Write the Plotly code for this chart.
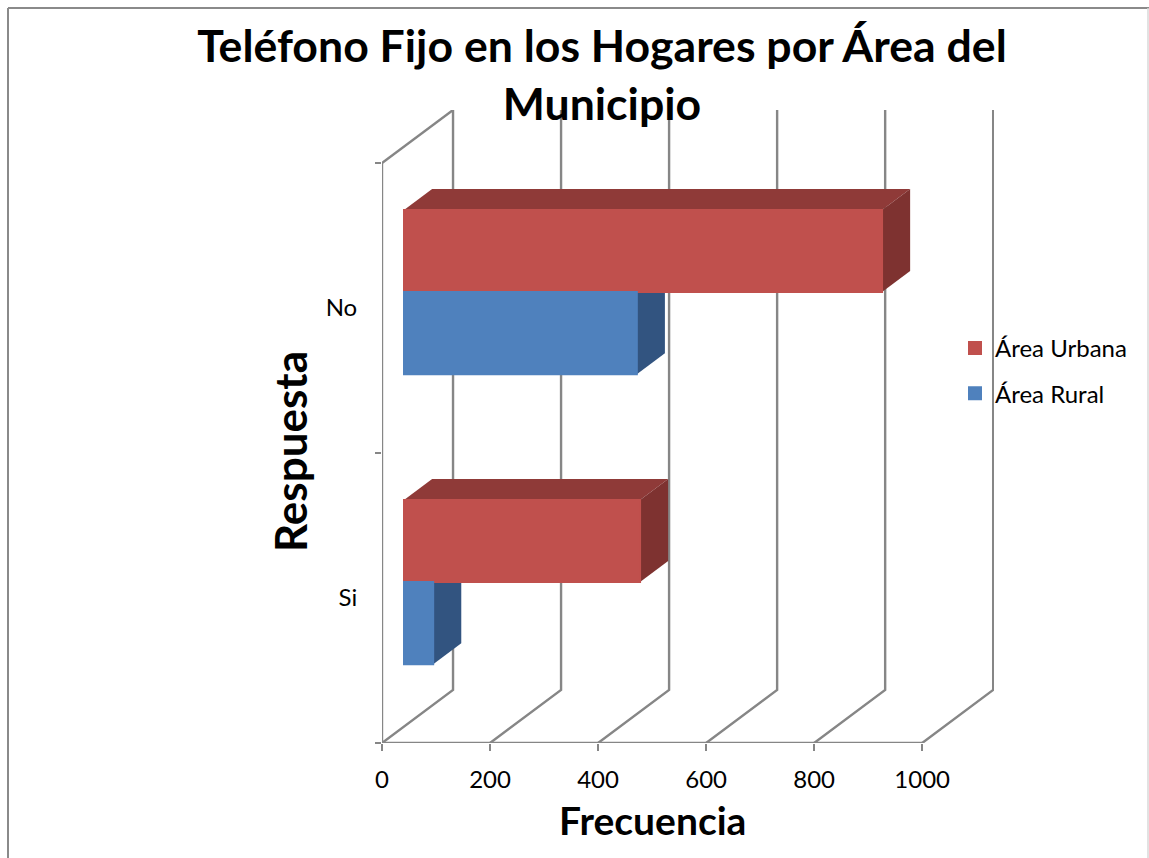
import plotly.graph_objects as go

W, H = 1149, 858
# data
categories = ["Si", "No"]
urbana = [437, 885]
rural = [54, 431]
x_ticks = [0, 200, 400, 600, 800, 1000]
series_names = ["Área Urbana", "Área Rural"]

# style / pseudo-3D projection expressed in axis units
FONT = "Lato"
GRID = "#868686"
RED, RED_TOP, RED_SIDE = "#C0504D", "#8F3A38", "#7E3230"
BLUE, BLUE_TOP, BLUE_SIDE = "#4F81BD", "#3A5F8C", "#325480"
X_MAX, Y_MAX = 1133, 2.183
WALL_DX, WALL_DY = 131.5, 0.183
BASE_DX, BASE_DY = 40.75, 0.055
BAR_DX, BAR_DY = 52, 0.0724
BAR_H = 0.283

cat_pos = [i + 0.5 for i in range(len(categories))]

fig = go.Figure()

# walls and grid
gx, gy = [0, WALL_DX, None], [2, 2 + WALL_DY, None]
for t in x_ticks:
    gx += [t, t + WALL_DX, t + WALL_DX, None]
    gy += [0, WALL_DY, 2 + WALL_DY, None]
gx += [0, 0, None, 0, 1000]
gy += [0, 2, None, 0, 0]
fig.add_trace(go.Scatter(x=gx, y=gy, mode="lines", line=dict(color=GRID, width=2.4),
                         showlegend=False, hoverinfo="skip"))


def faces(vals, y_lo, y_hi, top, side):
    for v, c in zip(vals, cat_pos):
        x0 = BASE_DX
        x1 = BASE_DX + v
        lo = c + BASE_DY + y_lo
        hi = c + BASE_DY + y_hi
        fig.add_trace(go.Scatter(
            x=[x0, x0 + BAR_DX, x1 + BAR_DX, x1, x0],
            y=[hi, hi + BAR_DY, hi + BAR_DY, hi, hi],
            mode="lines", fill="toself", fillcolor=top, line=dict(width=0),
            showlegend=False, hoverinfo="skip"))
        fig.add_trace(go.Scatter(
            x=[x1, x1 + BAR_DX, x1 + BAR_DX, x1, x1],
            y=[lo, lo + BAR_DY, hi + BAR_DY, hi, lo],
            mode="lines", fill="toself", fillcolor=side, line=dict(width=0),
            showlegend=False, hoverinfo="skip"))


faces(rural, -BAR_H, 0, BLUE_TOP, BLUE_SIDE)
faces(urbana, 0, BAR_H, RED_TOP, RED_SIDE)

# front faces on an overlaid subplot so they hide the depth faces
bar_y = [c + BASE_DY for c in cat_pos]
fig.add_trace(go.Bar(name=series_names[0], x=urbana, y=bar_y, base=BASE_DX, orientation="h",
                     width=BAR_H, offset=0, marker=dict(color=RED, line=dict(width=2, color=RED)),
                     xaxis="x2", yaxis="y2", legendgroup="u"))
fig.add_trace(go.Bar(name=series_names[1], x=rural, y=bar_y, base=BASE_DX, orientation="h",
                     width=BAR_H, offset=-BAR_H, marker=dict(color=BLUE, line=dict(width=2, color=BLUE)),
                     xaxis="x2", yaxis="y2", legendgroup="r"))

dom_x = [382 / W, 994 / W]
dom_y = [(H - 743) / H, (H - 110) / H]

border = [
    dict(x0=8 / W, x1=8 / W, y0=0, y1=(H - 8) / H, c="#8a8a8a", w=2),
    dict(x0=8 / W, x1=1, y0=(H - 8) / H, y1=(H - 8) / H, c="#8a8a8a", w=2),
    dict(x0=1148 / W, x1=1148 / W, y0=0, y1=(H - 8) / H, c="#d9d9d9", w=1.5),
]
shapes = [dict(type="line", xref="paper", yref="paper", x0=b["x0"], x1=b["x1"], y0=b["y0"], y1=b["y1"],
               line=dict(color=b["c"], width=b["w"])) for b in border]

fig.update_layout(
    width=W, height=H, autosize=False,
    margin=dict(l=0, r=0, t=0, b=0, autoexpand=False),
    paper_bgcolor="white", plot_bgcolor="rgba(0,0,0,0)",
    font=dict(family=FONT, color="black", size=24),
    barmode="overlay",
    showlegend=True,
    shapes=shapes,
    title=dict(text="Teléfono Fijo en los Hogares por Área del<br>Municipio",
               x=602 / W, xanchor="center", y=1 - 62 / H, yanchor="top",
               font=dict(family=FONT, size=44.6, color="black", weight="bold")),
    xaxis=dict(domain=dom_x, range=[0, X_MAX], tickmode="array", tickvals=x_ticks,
               ticks="outside", ticklen=7, tickwidth=2, tickcolor=GRID, showgrid=False,
               zeroline=False, showline=False, ticklabelstandoff=8,
               tickfont=dict(size=24, family=FONT)),
    yaxis=dict(domain=dom_y, range=[0, Y_MAX], tickmode="array", tickvals=cat_pos,
               ticktext=categories, ticks="outside", ticklen=19, tickcolor="rgba(0,0,0,0)",
               showgrid=False, zeroline=False, showline=False,
               tickfont=dict(size=24, family=FONT),
               minor=dict(tickmode="array", tickvals=[0, 1, 2], ticks="outside", ticklen=6,
                          tickwidth=2, tickcolor=GRID, showgrid=False)),
    xaxis2=dict(domain=dom_x, range=[0, X_MAX], overlaying="x", visible=False, anchor="y2"),
    yaxis2=dict(domain=dom_y, range=[0, Y_MAX], overlaying="y", visible=False, anchor="x2"),
    legend=dict(x=955 / W, xanchor="left", y=1 - 326 / H, yanchor="top", bgcolor="rgba(0,0,0,0)",
                tracegroupgap=11, traceorder="grouped", font=dict(size=24, family=FONT),
                itemwidth=30),
    annotations=[
        dict(text="<b>Frecuencia</b>", xref="paper", yref="paper", x=652 / W, y=1 - 820 / H,
             xanchor="center", yanchor="middle", showarrow=False, font=dict(size=39, family=FONT)),
        dict(text="<b>Respuesta</b>", xref="paper", yref="paper", x=290 / W, y=1 - 452 / H,
             xanchor="center", yanchor="middle", textangle=-90, showarrow=False,
             font=dict(size=44, family=FONT)),
    ],
)

fig.write_html("out.html", config={"displayModeBar": False},
               post_script="document.body.style.margin='0';document.documentElement.style.overflow='hidden';")
